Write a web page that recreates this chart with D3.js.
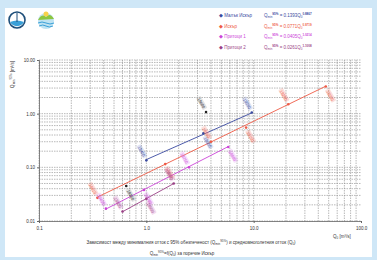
<!DOCTYPE html>
<html>
<head>
<meta charset="utf-8">
<script src="https://cdn.jsdelivr.net/npm/d3@7"></script>
<style>
  body { margin: 0; background: #cfe7f7; }
  svg { display: block; font-family: "Liberation Sans", Arial, sans-serif; }
</style>
</head>
<body>
<div id="chart"></div>
<script>
// data
var seriesNames = ["Малък Искър", "Искър", "Притоци 1", "Притоци 2"];
var seriesColors = ["#3a4aa0", "#ee5a45", "#cc44d8", "#9a3f86"];
var coefA = ["0.1393", "0.0771", "0.0405", "0.0261"];
var expB = ["0.8867", "0.9719", "1.0214", "1.1008"];
var lineFrom = [1.0, 0.35, 0.42, 0.6];
var lineTo = [9.8, 47, 5.8, 1.8];

var ptsMalakIskar = [[1.0, 0.135, "18450"], [3.4, 0.43, "18500"], [9.6, 1.05, "18550"]];
var ptsIskar = [[0.35, 0.027, "18010"], [1.5, 0.115, "18050"], [4.0, 0.30, "18100"], [8.5, 0.55, "18150"], [21, 1.5, "18200"], [47, 3.2, "18250"]];
var ptsPritoci1 = [[0.42, 0.017, "18650"], [0.95, 0.038, "18700"], [2.5, 0.10, "18750"], [5.8, 0.24, "18800"]];
var ptsPritoci2 = [[0.6, 0.015, "18850"], [1.0, 0.026, "18900"], [1.8, 0.05, "18950"]];
var ptsOther = [[3.6, 1.07, "18600"], [0.65, 0.045, "18350"]];

var xTicks = [0.1, 1, 10, 100];
var yTicks = [0.01, 0.1, 1, 10];

var W = 377, H = 260;
var svg = d3.select("#chart").append("svg").attr("width", W).attr("height", H);

svg.append("rect").attr("x", 5).attr("y", 8).attr("width", 367).attr("height", 249).attr("fill", "#fff");

// logos
svg.append("circle").attr("cx", 17).attr("cy", 20).attr("r", 8).attr("fill", "#fff").attr("stroke", "#1f4f7a").attr("stroke-width", 1.6);
svg.append("path").attr("d", "M10,22 Q17,19 24,22 A8,8 0 0 1 10,22 Z").attr("fill", "#3aa0d8");
svg.append("line").attr("x1", 17).attr("y1", 13).attr("x2", 17).attr("y2", 22).attr("stroke", "#1f4f7a").attr("stroke-width", 1);
svg.append("circle").attr("cx", 46).attr("cy", 21).attr("r", 8).attr("fill", "#bfe3f2");
svg.append("path").attr("d", "M38,20 Q42,13 46,17 Q50,12 54,19 Z").attr("fill", "#8cc63f");
svg.append("circle").attr("cx", 46).attr("cy", 14).attr("r", 2.5).attr("fill", "#f7d24a");
svg.append("path").attr("d", "M38,23 Q42,21 46,23 T54,23 M39,26 Q43,24 46,26 T53,26").attr("fill", "none").attr("stroke", "#3aa0d8").attr("stroke-width", 1);

var x = d3.scaleLog().domain([0.1, 100]).range([39, 361]);
var y = d3.scaleLog().domain([0.01, 10]).range([221, 60]);

// grid
var gridVals = [];
[0.01, 0.1, 1, 10].forEach(function(d) {
  for (var k = 1; k <= 9; k++) gridVals.push(d * k);
});
var xGrid = gridVals.filter(function(v) { return v >= 0.1 && v <= 100.0001; });
var yGrid = gridVals.filter(function(v) { return v >= 0.01 && v <= 10.0001; });

svg.append("g").selectAll("line").data(xGrid).enter().append("line")
  .attr("x1", function(d) { return x(d); }).attr("x2", function(d) { return x(d); })
  .attr("y1", 60).attr("y2", 221)
  .attr("stroke", "#8a8a8a").attr("stroke-width", 0.6).attr("stroke-dasharray", "1.5,1");
svg.append("g").selectAll("line").data(yGrid).enter().append("line")
  .attr("y1", function(d) { return y(d); }).attr("y2", function(d) { return y(d); })
  .attr("x1", 39).attr("x2", 361)
  .attr("stroke", "#8a8a8a").attr("stroke-width", 0.6).attr("stroke-dasharray", "1.5,1");

// axes
var yAxis = svg.append("g").attr("transform", "translate(39,0)")
  .call(d3.axisLeft(y).tickValues(yTicks).tickFormat(d3.format(".2f")).tickSize(2).tickPadding(2));
var xAxis = svg.append("g").attr("transform", "translate(0,221)")
  .call(d3.axisBottom(x).tickValues(xTicks).tickFormat(d3.format(".1f")).tickSize(2).tickPadding(4));
[xAxis, yAxis].forEach(function(a) {
  a.selectAll("text").attr("font-size", 4.5).attr("fill", "#333").attr("font-family", "Liberation Sans, Arial, sans-serif");
  a.select(".domain").attr("stroke", "#666").attr("stroke-width", 0.8);
  a.selectAll(".tick line").attr("stroke", "#666");
});

// fitted lines
seriesNames.forEach(function(name, i) {
  var a = +coefA[i], b = +expB[i];
  var ends = [lineFrom[i], lineTo[i]];
  svg.append("line")
    .attr("x1", x(ends[0])).attr("y1", y(a * Math.pow(ends[0], b)))
    .attr("x2", x(ends[1])).attr("y2", y(a * Math.pow(ends[1], b)))
    .attr("stroke", seriesColors[i]).attr("stroke-width", 0.9);
});

// points and station labels
function drawPoints(pts, color, labelColor) {
  pts.forEach(function(p, j) {
    var px = x(p[0]), py = y(p[1]);
    svg.append("circle").attr("cx", px).attr("cy", py).attr("r", 1.3).attr("fill", color);
    var off = (j % 2 === 0) ? -9 : 9;
    var g = svg.append("g").attr("transform", "translate(" + (px + off * 0.5) + "," + (py + off) + ") rotate(60)");
    g.append("rect").attr("x", -7).attr("y", -2.8).attr("width", 14).attr("height", 5.2)
      .attr("fill", labelColor).attr("opacity", 0.25).attr("rx", 1);
    g.append("text").attr("text-anchor", "middle").attr("dy", 1.6).attr("font-size", 4)
      .attr("fill", color).text(p[2]);
  });
}
drawPoints(ptsMalakIskar, seriesColors[0], "#8090d0");
drawPoints(ptsIskar, seriesColors[1], "#f08070");
drawPoints(ptsPritoci1, seriesColors[2], "#e080f0");
drawPoints(ptsPritoci2, seriesColors[3], "#d070c0");
drawPoints(ptsOther, "#222", "#999");

// legend with equations
seriesNames.forEach(function(name, i) {
  var ly = 17 + i * 10.5;
  svg.append("text").attr("x", 219).attr("y", ly).attr("font-size", 4.5)
    .attr("fill", seriesColors[i]).text("\u25C6 " + name);
  var t = svg.append("text").attr("x", 264).attr("y", ly).attr("font-size", 4.5).attr("fill", seriesColors[i]);
  t.append("tspan").text("Q");
  t.append("tspan").attr("font-size", 3).attr("dy", 1).text("min");
  t.append("tspan").attr("font-size", 3).attr("dy", -3).attr("font-weight", "bold").text("95%");
  t.append("tspan").attr("dy", 2).text(" = " + coefA[i] + "Q");
  t.append("tspan").attr("font-size", 3).attr("dy", 1).text("0");
  t.append("tspan").attr("font-size", 3).attr("dy", -3).attr("font-weight", "bold").text(expB[i]);
});

// axis titles
var yt = svg.append("text").attr("transform", "translate(14,61) rotate(-90)").attr("text-anchor", "end")
  .attr("font-size", 4.5).attr("fill", "#333");
yt.append("tspan").text("Q");
yt.append("tspan").attr("font-size", 3).attr("dy", 1).text("min");
yt.append("tspan").attr("font-size", 3).attr("dy", -3).text("95%");
yt.append("tspan").attr("dy", 2).text(" [m\u00B3/s]");

var xt = svg.append("text").attr("x", 333).attr("y", 238).attr("font-size", 4.5).attr("fill", "#333");
xt.append("tspan").text("Q");
xt.append("tspan").attr("font-size", 3).attr("dy", 1).text("0");
xt.append("tspan").attr("dy", -1).text(" [m\u00B3/s]");

// caption
var c1 = svg.append("text").attr("x", 191).attr("y", 244).attr("text-anchor", "middle").attr("font-size", 4.5).attr("fill", "#333");
c1.append("tspan").text("Зависимост между минималния отток с 95% обезпеченост (Q");
c1.append("tspan").attr("font-size", 3).attr("dy", 1).text("min");
c1.append("tspan").attr("font-size", 3).attr("dy", -3).text("95%");
c1.append("tspan").attr("dy", 2).text(") и средномноголетния отток (Q");
c1.append("tspan").attr("font-size", 3).attr("dy", 1).text("0");
c1.append("tspan").attr("dy", -1).text(")");

var c2 = svg.append("text").attr("x", 182).attr("y", 255).attr("text-anchor", "middle").attr("font-size", 4.5).attr("fill", "#333");
c2.append("tspan").text("Q");
c2.append("tspan").attr("font-size", 3).attr("dy", 1).text("min");
c2.append("tspan").attr("font-size", 3).attr("dy", -3).text("95%");
c2.append("tspan").attr("dy", 2).text("=f(Q");
c2.append("tspan").attr("font-size", 3).attr("dy", 1).text("0");
c2.append("tspan").attr("dy", -1).text(") за поречие Искър");
</script>
</body>
</html>
